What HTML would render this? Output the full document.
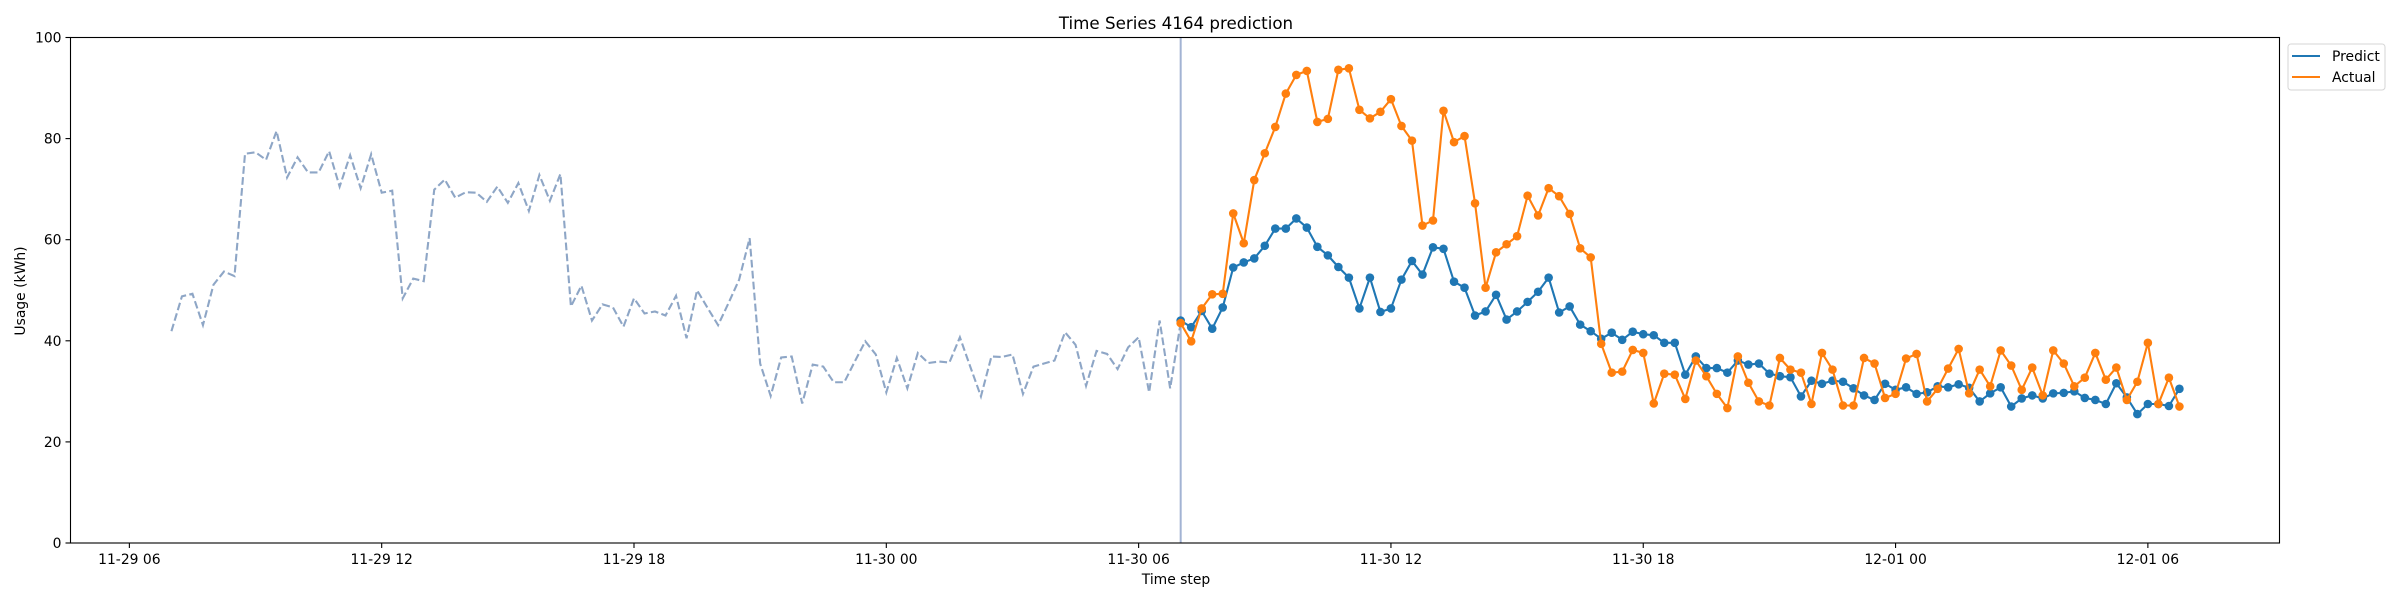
<!DOCTYPE html>
<html><head><meta charset="utf-8"><style>
html,body{margin:0;padding:0;background:#fff;}
svg{display:block;font-family:"DejaVu Sans","Liberation Sans",sans-serif;}
</style></head><body>
<svg id="chart" width="2400" height="600" viewBox="0 0 2400 600" xmlns="http://www.w3.org/2000/svg">
<rect x="0" y="0" width="2400" height="600" fill="#fff"/>
<text x="1176" y="29" font-size="16.7" text-anchor="middle" fill="#000">Time Series 4164 prediction</text>
<text x="1176" y="584" font-size="13.9" text-anchor="middle" fill="#000">Time step</text>
<text x="0" y="0" font-size="13.9" text-anchor="middle" fill="#000" transform="translate(25,291) rotate(-90)">Usage (kWh)</text>
<g id="plot"></g>
<g id="axes"></g>
<g>
<rect x="2288" y="44" width="97" height="46" rx="3" fill="#fff" stroke="#d6d6d6" stroke-width="1"/>
<line x1="2292" y1="56" x2="2320" y2="56" stroke="#1f77b4" stroke-width="2.1"/>
<text x="2332" y="61" font-size="13.9" fill="#000">Predict</text>
<line x1="2292" y1="77" x2="2320" y2="77" stroke="#ff7f0e" stroke-width="2.1"/>
<text x="2332" y="82" font-size="13.9" fill="#000">Actual</text>
</g>
</svg>
<script>
const historyStartHour = 7.0;
const forecastStartHour = 31.0;
const stepHours = 0.25;
const historyValues = [41.9,48.8,49.3,43.1,51.1,53.7,52.8,77.0,77.3,75.8,81.5,72.3,76.3,73.3,73.3,77.5,70.5,76.7,70.2,76.9,69.3,69.7,48.4,52.3,51.8,69.9,71.9,68.3,69.4,69.3,67.5,70.5,67.3,71.2,65.7,72.8,67.7,73.0,46.8,50.9,44.0,47.2,46.6,42.8,48.4,45.4,45.8,
45.0,48.9,40.5,50.0,46.5,43.1,47.5,52.1,60.3,35.5,29.1,36.7,36.9,27.6,35.3,34.9,31.8,31.8,35.9,39.9,37.3,29.8,36.6,30.6,37.6,35.6,35.9,35.7,40.7,34.8,29.0,36.9,36.8,37.3,29.5,34.9,35.5,36.1,41.7,39.2,31.1,38.0,37.4,34.4,38.7,40.7,29.8,44.0,30.6,43.6];
const predictValues = [44.0,42.7,45.9,42.4,46.6,54.5,55.5,56.3,58.8,62.2,62.2,64.2,62.4,58.6,56.9,54.6,52.5,46.4,52.5,45.7,46.4,52.1,55.8,53.1,58.5,58.2,51.7,50.5,45.0,45.8,49.1,44.2,45.8,47.7,49.7,52.5,45.6,46.8,43.2,41.9,40.4,41.6,40.2,41.8,41.3,41.1,39.6,39.6,33.3,36.9,34.6,34.6,
33.7,36.1,35.3,35.5,33.5,33.0,32.8,29.0,32.1,31.5,32.1,31.9,30.6,29.2,28.3,31.5,30.3,30.8,29.5,29.8,31.0,30.8,31.4,30.7,28.0,29.6,30.8,27.0,28.6,29.2,28.6,29.6,29.7,30.0,28.7,28.3,27.5,31.6,28.8,25.5,27.5,27.5,27.1,30.5];
const actualValues = [43.5,39.9,46.4,49.2,49.3,65.2,59.3,71.8,77.1,82.3,88.9,92.6,93.4,83.3,83.9,93.6,93.9,85.7,84.0,85.3,87.8,82.5,79.6,62.8,63.8,85.5,79.3,80.5,67.2,50.5,57.5,59.1,60.7,68.7,64.8,70.2,68.6,65.1,58.3,56.5,39.4,33.7,33.9,38.2,37.6,27.6,33.5,33.3,28.5,36.1,33.0,29.5,
26.7,36.9,31.7,28.0,27.2,36.6,34.3,33.7,27.5,37.6,34.3,27.2,27.2,36.6,35.5,28.7,29.5,36.5,37.4,28.0,30.5,34.5,38.4,29.6,34.3,31.0,38.1,35.1,30.3,34.7,29.2,38.1,35.5,31.0,32.7,37.6,32.3,34.7,28.3,31.9,39.6,27.5,32.7,27.0];
const xTickHours = [6,12,18,24,30,36,42,48,54];
const xTickLabels = ["11-29 06","11-29 12","11-29 18","11-30 00","11-30 06","11-30 12","11-30 18","12-01 00","12-01 06"];
const yTickValues = [0,20,40,60,80,100];

const NS = "http://www.w3.org/2000/svg";
const L = 70.5, R = 2279.5, T = 37.5, B = 543;
const xMin = 4.6, xMax = 57.13, yMin = 0, yMax = 100;
function xs(h){ return L + (h - xMin) / (xMax - xMin) * (R - L); }
function ys(v){ return B - (v - yMin) / (yMax - yMin) * (B - T); }
function mk(tag, attrs, parent){
  const el = document.createElementNS(NS, tag);
  for (const k in attrs) el.setAttribute(k, attrs[k]);
  parent.appendChild(el);
  return el;
}
const plot = document.getElementById('plot');
const axes = document.getElementById('axes');

// vertical forecast start line
const vl = mk('line', {x1: xs(forecastStartHour), x2: xs(forecastStartHour), y1: T, y2: B, stroke: '#a3b3d3', 'stroke-width': 2}, plot);



function pts(vals, start){ return vals.map((v,i)=> xs(start + i*stepHours).toFixed(2) + ',' + ys(v).toFixed(2)).join(' '); }

const hist = mk('polyline', {points: pts(historyValues, historyStartHour), fill: 'none', stroke: '#8ea6c6', 'stroke-width': 2.1, 'stroke-dasharray': '7.7,3.3'}, plot);



function series(vals, color, name){
  const g = mk('g', {}, plot);
  
  
  const pl = mk('polyline', {points: pts(vals, forecastStartHour), fill: 'none', stroke: color, 'stroke-width': 2.1, 'stroke-linejoin': 'round'}, g);
  
  
  vals.forEach((v,i)=>{
    const c = mk('circle', {cx: xs(forecastStartHour + i*stepHours), cy: ys(v), r: 4.3, fill: color}, g);
    
    
  });
}
series(predictValues, '#1f77b4', 'predict');
series(actualValues, '#ff7f0e', 'actual');

// frame
const fr = mk('rect', {x: L, y: T, width: R - L, height: B - T, fill: 'none', stroke: '#000', 'stroke-width': 1.1}, axes);



xTickHours.forEach((h,i)=>{
  const x = xs(h);
  const t = mk('line', {x1: x, x2: x, y1: B, y2: B + 5, stroke: '#000', 'stroke-width': 1.1}, axes);
  
  
  const lb = mk('text', {x: x, y: B + 21, 'font-size': 13.9, 'text-anchor': 'middle', fill: '#000'}, axes);
  lb.textContent = xTickLabels[i];
  
  
});
yTickValues.forEach(v=>{
  const y = ys(v);
  const t = mk('line', {x1: L - 5, x2: L, y1: y, y2: y, stroke: '#000', 'stroke-width': 1.1}, axes);
  
  
  const lb = mk('text', {x: L - 9, y: y + 5, 'font-size': 13.9, 'text-anchor': 'end', fill: '#000'}, axes);
  lb.textContent = String(v);
  
  
});
</script>
</body></html>
